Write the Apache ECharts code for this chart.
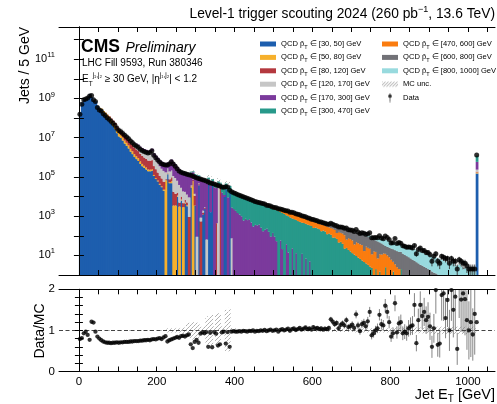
<!DOCTYPE html>
<html>
<head>
<meta charset="utf-8">
<script src="https://cdn.jsdelivr.net/npm/echarts@6.0.0/dist/echarts.min.js"></script>
<style>
html, body { margin: 0; padding: 0; background: #fff; }
#chart { width: 497px; height: 404px; }
</style>
</head>
<body>
<div id="chart"></div>
<script>
// ================= values =================
const binWidthGeV = 5;

const sampleNames = [
  'QCD p\u0302T \u2208 [30, 50] GeV', 'QCD p\u0302T \u2208 [50, 80] GeV', 'QCD p\u0302T \u2208 [80, 120] GeV',
  'QCD p\u0302T \u2208 [120, 170] GeV', 'QCD p\u0302T \u2208 [170, 300] GeV', 'QCD p\u0302T \u2208 [300, 470] GeV',
  'QCD p\u0302T \u2208 [470, 600] GeV', 'QCD p\u0302T \u2208 [600, 800] GeV', 'QCD p\u0302T \u2208 [800, 1000] GeV'
];

// first bin index (bin i covers [5i, 5i+5) GeV) and per-bin jets of each sample
const qcd30to50FirstBin = 0;
const qcd30to50 = [
  1.95e8, 6.2e8, 9.1e8, 9.6e8, 1.17e9, 1.7e9, 1.17e9, 7.1e8, 7.2e8, 4.2e8,
  3.1e8, 2.7e8, 1.9e8, 1.44e8, 1.02e8, 7.8e7, 5.5e7, 3.9e7, 2.7e7, 1.7e7,
  1.15e7, 9.6e6, 7.1e6, 5.0e6, 3.8e6, 2.8e6, 1.94e6, 1.45e6, 1.03e6, 8.1e5,
  6.5e5, 4.6e5, 3.5e5, 2.9e5, 2.4e5, 1.95e5, 1.95e5, 2.1e5, 1.12e5, 7.8e4,
  5.9e4, 4.0e4, 3.0e4, 2.0e4, 0, 1.38e5, 4.8e4, 4.8e4, 0, 0,
  1.0e4, 0, 6.3e3, 0, 4.4e3, 3.2e3, 0, 2.9e4, 0, 3.5e3,
  0, 3.8e4, 0, 1.2e3, 2.3e3, 0, 4.6e4, 1.6e3, 3.9e4, 0,
  0, 0, 0, 0, 9.5e3, 2.6e4, 0, 1.56e4
];
const qcd50to80FirstBin = 10;
const qcd50to80 = [
  2.2e7, 3.3e7, 3.9e7, 4.1e7, 3.9e7, 3.7e7, 3.0e7, 2.3e7, 1.57e7, 1.0e7,
  5.9e6, 4.3e6, 3.2e6, 2.2e6, 1.7e6, 1.25e6, 8.0e5, 5.9e5, 4.2e5, 3.1e5,
  2.5e5, 1.6e5, 1.1e5, 8e4, 6.2e4, 4.5e4, 4e4, 4e4, 1.4e4, 9.5e3,
  7.2e3, 4.9e3, 3.6e3, 2.5e3, 6.8e4, 6.6e3, 5.8e3, 1.2e4, 3.5e3, 3.5e3,
  1.2e3, 3.1e3, 780, 2.9e3, 540, 380, 0, 1.5e3, 6.2e4, 0,
  0, 840
];
const qcd80to120FirstBin = 13;
const qcd80to120 = [
  4.4e6, 6.7e6, 8.2e6, 1.04e7, 1.26e7, 1.35e7, 1.1e7,
  1.0e7, 9.7e6, 8.0e6, 6.2e6, 5.0e6, 3.9e6, 2.9e6, 2.2e6, 1.65e6, 1.38e6,
  1.16e6, 8.7e5, 7.1e5, 6.0e5, 5.3e5, 4.4e5, 4.4e5, 4.7e5, 2.3e5, 1.6e5,
  1.0e5, 6.7e4, 5.0e4, 3.4e4, 8.2e3, 1.0e4, 2.2e4, 3.6e4, 1.4e4, 1.04e4,
  4.7e3, 1.8e3, 2.9e3, 1.7e3, 2.0e3, 1.45e3, 910, 2.2e3, 7.6e3, 7.5e3,
  0, 3.8e3, 540, 320, 280, 0, 0, 0, 0, 0,
  440, 0, 2.9e4
];
const qcd120to170FirstBin = 16;
const qcd120to170 = [
  2.3e6, 3.5e6, 4.0e6, 4.7e6,
  4.8e6, 5.4e6, 5.3e6, 4.7e6, 4.6e6, 4.4e6, 3.7e6, 3.2e6, 2.7e6, 2.4e6,
  2.2e6, 1.77e6, 1.5e6, 1.35e6, 1.26e6, 1.1e6, 1.18e6, 1.36e6, 7.6e5, 5.3e5,
  3.6e5, 2.4e5, 1.8e5, 1.46e5, 9.5e4, 1.2e5, 1.14e5, 1.19e5, 9.4e4, 7.4e4,
  4.8e4, 3.4e4, 1.8e4, 1.37e4, 1.04e4, 7.6e3, 8.2e3, 4.1e3, 8.4e3, 2.8e3,
  90, 5.2e3, 310, 390, 310, 65, 2.2e3, 0, 0, 0,
  0, 3.0e4, 0, 0, 0, 0, 0, 0, 75
];
const qcd170to300FirstBin = 27;
const qcd170to300 = [
  1.7e5, 1.4e5, 2.3e5,
  2.0e5, 2.3e5, 2.6e5, 2.8e5, 3.1e5, 3.6e5, 4.8e5, 6.6e5, 4.6e5, 4.5e5,
  4.1e5, 3.5e5, 3.3e5, 3.1e5, 3.1e5, 2.7e5, 4.1e5, 5.5e5, 4.5e5, 3.5e5,
  2.56e5, 2.06e5, 1.63e5, 1.56e5, 1.45e5, 1.35e5, 1.23e5, 1.29e5, 9.6e4, 1.09e5,
  1.02e5, 5.7e4, 7.1e4, 6.1e4, 5.4e4, 4.9e4, 2.45e4, 3.5e4, 2.0e4, 3.0e4,
  2.7e4, 7.7e3, 2.1e3, 1.6e4, 2.5e3, 3.2e3, 9.0e3, 1.9e3, 2.7e3, 2.3e3,
  1.86e3, 1.45e3, 1.2e3, 990, 600, 730, 630, 700, 480, 300,
  360, 340, 380, 260, 170, 205, 230, 160, 90, 140,
  90, 53, 0, 58, 21, 0, 37, 14, 0, 23,
  0, 13, 0, 0, 12, 0, 7, 0, 5
];
const qcd300to470FirstBin = 52;
const qcd300to470 = [
  9e3, 8.2e3, 1.17e4, 1.06e4, 1.28e4, 2.0e4, 2.1e4, 1.5e4,
  1.5e4, 1.55e4, 1.27e4, 1.28e4, 1.48e4, 1.57e4, 1.9e4, 1.5e4, 1.9e4, 1.5e4,
  1.6e4, 2.2e4, 2.0e4, 1.6e4, 1.8e4, 1.7e4, 2.3e4, 1.75e4, 1.5e4, 1.39e4,
  1.29e4, 1.17e4, 1.08e4, 1.0e4, 9.4e3, 8.4e3, 7.7e3, 6.9e3, 6.4e3, 6.0e3,
  5.4e3, 4.94e3, 4.4e3, 4.23e3, 3.93e3, 3.53e3, 3.07e3, 2.89e3, 2.57e3, 2.3e3,
  2.13e3, 1.99e3, 1.82e3, 1.61e3, 1.43e3, 1.29e3, 1.08e3, 986, 870, 752,
  706, 632, 562, 512, 454, 447, 400, 370, 341, 315,
  250, 264, 240, 218, 170, 183, 165, 120, 132, 112,
  80, 83, 69, 45, 49, 39, 22, 24, 19, 16,
  13, 11, 9.3, 7.7, 6.6, 5.5, 4.6, 3.9, 3.3, 2.7,
  2.3, 0, 2, 0, 1.5, 0, 0, 2.5, 0, 0,
  0, 1.5, 0, 0, 0, 2
];
const qcd470to600FirstBin = 91;
const qcd470to600 = [
  124, 225, 212, 295, 360, 403, 452, 538, 561,
  577, 589, 635, 635, 693, 662, 696, 700, 677, 667,
  609, 586, 533, 510, 443, 404, 351, 335, 283, 272,
  286, 227, 207, 197, 211, 174, 157, 176, 138, 134,
  149, 116, 70, 114, 92, 90, 85, 40, 57, 52,
  45, 25, 38, 34, 30, 28, 12, 24, 21, 19,
  9, 16, 13, 7, 10, 11, 12.6, 9.5, 10, 8,
  6, 3.2, 3.5, 2.5, 2
];
const qcd600to800FirstBin = 105;
const qcd600to800 = [
  46, 43, 40, 73, 68,
  94, 88, 106, 99, 111, 104, 112, 104, 110, 103,
  94, 99, 103, 95, 99, 93, 93, 94, 95, 94,
  87, 96, 136, 104, 104, 100, 107, 136, 114, 110,
  108, 116, 96, 91, 88, 81, 89, 72, 65, 63,
  62, 48, 44, 45, 35, 30, 23, 18, 17, 17,
  16.5, 16, 15, 14, 13, 13.3, 12.2, 10.5, 9.2, 8.1,
  7.0, 6.0, 5.3, 4.5, 3.9, 3.3, 3.0, 2.6, 2.3, 2.0,
  1.8, 1.5, 1.3, 1.2, 1.05, 0.9, 0.83, 0.7
];
const qcd800to1000FirstBin = 141;
const qcd800to1000 = [
  3.1, 4.4, 5.5, 6.6, 8.6, 9.2, 11, 12, 14,
  18, 20, 23, 24, 26, 27, 28, 30, 29, 29,
  27.5, 26, 25.5, 25, 24, 19.7, 20.8, 19.5, 18.8, 17.9,
  16.4, 15.6, 14.5, 13.5, 12.5, 11.6, 10.6, 9.9, 9.2, 8.6,
  8.0, 7.5, 7.0, 6.4, 5.95, 5.5, 5.1, 4.7, 5.0, 4.0,
  4.3, 4.8, 3.6, 2.8, 3.1, 3.5, 2.7, 2.1, 2.2, 2.5,
  1.9, 1.5, 2.0, 1.5
];
// saturated last bin [1020, 1025) GeV, one entry per sample (same order as sampleNames)
const overflowBinIndex = 204;
const overflowBinJets = [1.5e5, 2e4, 1.5e4, 5e4, 3.5e5, 6e5, 3e4, 2e4, 1e4];

// data, bins 0..204
const dataJets = [
  1.55e8, 5.0e8, 8.5e8, 9.3e8, 1.05e9, 1.32e9, 1.41e9, 8.5e8, 7.1e8, 3.5e8,
  2.6e8, 2.3e8, 1.66e8, 1.35e8, 1.05e8, 8.7e7, 6.8e7, 5.5e7, 4.3e7, 3.0e7,
  2.3e7, 2.0e7, 1.66e7, 1.32e7, 1.1e7, 8.9e6, 6.8e6, 5.5e6, 4.4e6, 3.8e6,
  3.3e6, 2.6e6, 2.24e6, 2.0e6, 1.82e6, 1.66e6, 1.78e6, 2.14e6, 1.26e6, 9.5e5,
  7.4e5, 5.8e5, 4.7e5, 4.3e5, 4.1e5, 4.0e5, 4.6e5, 5.9e5, 4.5e5, 3.55e5,
  2.6e5, 2.0e5, 1.74e5, 1.58e5, 1.48e5, 1.38e5, 1.29e5, 1.23e5, 1.12e5, 1.0e5,
  9.1e4, 8.3e4, 7.8e4, 7.2e4, 6.8e4, 6.2e4, 5.5e4, 4.9e4, 4.6e4, 4.3e4,
  4.0e4, 3.7e4, 3.4e4, 3.1e4, 2.95e4, 3.2e4, 3.1e4, 2.1e4, 1.74e4, 1.58e4,
  1.45e4, 1.28e4, 1.18e4, 1.07e4, 9.9e3, 8.9e3, 8.1e3, 7.5e3, 6.8e3, 6.3e3,
  5.6e3, 5.3e3, 4.9e3, 4.7e3, 4.36e3, 4.14e3, 3.63e3, 3.5e3, 3.26e3, 2.97e3,
  2.8e3, 2.68e3, 2.38e3, 2.32e3, 2.2e3, 2.0e3, 1.9e3, 1.81e3, 1.6e3, 1.56e3,
  1.48e3, 1.33e3, 1.24e3, 1.19e3, 1.04e3, 993, 931, 834, 777, 704,
  680, 614, 583, 525, 504, 459, 432, 402, 387, 432,
  382, 339, 325, 276, 277, 268, 240, 250, 205, 196,
  189, 164, 206, 155, 129, 141, 136, 121, 124, 142,
  80, 79, 81, 80, 99, 78, 71, 96, 81, 65,
  43, 44, 73, 40, 46, 42, 31, 29, 26, 27,
  26, 24, 32, 12, 20, 24, 18, 18, 14, 14,
  11, 5, 9, 12, 5, 4, 9, 8, 7, 7,
  4, 7, 5, 5, 2, 6, 5, 4, 4, 3,
  2, 2, 2, 2, 1.3e6
];

// Data / MC, bins 0..204
const dataOverMC = [
  0.79, 0.81, 0.93, 0.97, 0.89, 0.77, 1.21, 1.19, 0.97, 0.85,
  0.80, 0.76, 0.73, 0.71, 0.70, 0.70, 0.69, 0.70, 0.70, 0.71,
  0.70, 0.71, 0.71, 0.72, 0.72, 0.72, 0.73, 0.73, 0.74, 0.74,
  0.74, 0.75, 0.75, 0.76, 0.76, 0.77, 0.76, 0.78, 0.79, 0.78,
  0.80, 0.81, 0.79, 0.83, 0.86, 0.73, 0.76, 0.78, 0.80, 0.82,
  0.84, 0.82, 0.86, 0.87, 0.85, 0.88, 0.90, 0.66, 0.57, 0.72,
  0.77, 0.70, 0.92, 0.95, 0.93, 0.96, 0.60, 0.94, 0.59, 0.96,
  0.92, 0.63, 0.66, 0.95, 0.97, 0.68, 0.96, 0.60, 0.97, 0.98,
  0.97, 0.97, 0.98, 0.97, 0.99, 0.98, 0.97, 0.99, 0.98, 1.00,
  0.97, 0.99, 0.98, 1.00, 0.99, 1.01, 0.98, 1.00, 1.02, 0.99,
  1.00, 1.02, 0.97, 1.01, 1.03, 1.00, 1.02, 1.04, 0.99, 1.03,
  1.05, 1.01, 1.03, 1.06, 1.02, 1.04, 1.07, 1.03, 1.05, 1.02,
  1.08, 1.04, 1.06, 1.03, 1.05, 1.02, 1.04, 1.03, 1.06, 1.27,
  1.21, 1.15, 1.18, 1.05, 1.13, 1.17, 1.12, 1.25, 1.08, 1.10,
  1.14, 1.06, 1.39, 1.12, 0.98, 1.15, 1.18, 1.10, 1.22, 1.45,
  0.88, 0.93, 1.00, 1.05, 1.38, 1.15, 1.12, 1.60, 1.45, 1.20,
  0.85, 0.93, 1.66, 0.95, 1.17, 1.20, 0.93, 0.97, 0.93, 1.05,
  1.10, 1.12, 1.62, 0.69, 1.25, 1.62, 1.35, 1.45, 1.25, 1.33,
  1.10, 0.60, 1.05, 1.98, 0.65, 0.68, 1.86, 1.90, 1.30, 1.74,
  1.00, 1.98, 1.50, 1.82, 0.55, 2.20, 1.75, 1.90, 1.76, 1.25,
  1.00, 1.20, 0.90, 1.40, 1.20
];

// relative MC statistical uncertainty, bins 0..204
const mcRelStatUnc = [
  0.01, 0.01, 0.01, 0.01, 0.01, 0.01, 0.01, 0.01, 0.01, 0.01,
  0.01, 0.01, 0.01, 0.01, 0.01, 0.01, 0.01, 0.01, 0.01, 0.01,
  0.01, 0.01, 0.01, 0.01, 0.01, 0.01, 0.01, 0.01, 0.01, 0.01,
  0.01, 0.01, 0.01, 0.01, 0.01, 0.01, 0.01, 0.01, 0.01, 0.01,
  0.01, 0.01, 0.01, 0.01, 0.01, 0.05, 0.04, 0.05, 0.04, 0.05,
  0.06, 0.05, 0.06, 0.06, 0.07, 0.15, 0.18, 0.20, 0.22, 0.20,
  0.18, 0.20, 0.08, 0.09, 0.10, 0.30, 0.35, 0.33, 0.38, 0.10,
  0.40, 0.42, 0.40, 0.10, 0.12, 0.50, 0.45, 0.55, 0.06, 0.05,
  0.05, 0.02, 0.02, 0.02, 0.02, 0.02, 0.02, 0.02, 0.02, 0.02,
  0.02, 0.02, 0.02, 0.02, 0.02, 0.02, 0.02, 0.02, 0.02, 0.02,
  0.02, 0.03, 0.03, 0.03, 0.03, 0.03, 0.03, 0.03, 0.03, 0.03,
  0.03, 0.03, 0.03, 0.03, 0.03, 0.03, 0.03, 0.03, 0.03, 0.03,
  0.03, 0.04, 0.04, 0.04, 0.04, 0.04, 0.04, 0.04, 0.04, 0.04,
  0.04, 0.04, 0.04, 0.04, 0.04, 0.04, 0.04, 0.04, 0.04, 0.04,
  0.04, 0.05, 0.05, 0.05, 0.05, 0.05, 0.05, 0.05, 0.05, 0.05,
  0.05, 0.05, 0.05, 0.05, 0.05, 0.05, 0.05, 0.05, 0.05, 0.05,
  0.05, 0.07, 0.07, 0.07, 0.07, 0.07, 0.07, 0.07, 0.07, 0.07,
  0.07, 0.07, 0.07, 0.07, 0.07, 0.07, 0.07, 0.07, 0.07, 0.07,
  0.07, 0.09, 0.09, 0.09, 0.09, 0.09, 0.09, 0.09, 0.09, 0.09,
  0.09, 0.09, 0.09, 0.09, 0.09, 0.09, 0.09, 0.09, 0.09, 0.09,
  0.09, 0.09, 0.09, 0.09, 0.02
];

const xTickLabelValues = [0, 200, 400, 600, 800, 1000];
const xTickValues = [0, 50, 100, 150, 200, 250, 300, 350, 400, 450, 500, 550, 600, 650, 700, 750, 800, 850, 900, 950, 1000, 1050];
const yTickLabelValues = [1e1, 1e3, 1e5, 1e7, 1e9, 1e11];
const yTickValues = [1e1, 1e2, 1e3, 1e4, 1e5, 1e6, 1e7, 1e8, 1e9, 1e10, 1e11, 1e12];
const ratioTickLabelValues = [0, 1, 2];
const ratioTickValues = [0, 0.2, 0.4, 0.6, 0.8, 1, 1.2, 1.4, 1.6, 1.8, 2];

// ================= styling =================
const sampleColors = ['#1d5eae', '#f6b02c', '#b4383e', '#c6c6c6', '#7b3a9c', '#27998a', '#fa7c0f', '#727277', '#98dade'];
const FONT = '"Liberation Sans", Arial, Helvetica, sans-serif';
const X_MIN = -51.2, X_MAX = 1069.6;
const Y_MIN = 1, Y_MAX = 4.4e12;

const samples = [
  [qcd30to50FirstBin, qcd30to50], [qcd50to80FirstBin, qcd50to80], [qcd80to120FirstBin, qcd80to120],
  [qcd120to170FirstBin, qcd120to170], [qcd170to300FirstBin, qcd170to300], [qcd300to470FirstBin, qcd300to470],
  [qcd470to600FirstBin, qcd470to600], [qcd600to800FirstBin, qcd600to800], [qcd800to1000FirstBin, qcd800to1000]
];

const nBins = dataJets.length;
const mcTotal = new Array(nBins).fill(0);

function histRect(params, api) {
  const a = api.coord([api.value(0), api.value(3)]);
  const b = api.coord([api.value(1), api.value(2)]);
  return { type: 'rect', shape: { x: a[0], y: a[1], width: b[0] - a[0] + 0.8, height: b[1] - a[1] },
           style: { fill: api.visual('color'), stroke: null, lineWidth: 0 } };
}

const histSeries = samples.map(([first, vals], k) => {
  const items = [];
  const add = (i, v) => {
    const lo = mcTotal[i], hi = lo + v;
    mcTotal[i] = hi;
    if (v > 0 && hi > Y_MIN) items.push([i * binWidthGeV, (i + 1) * binWidthGeV, Math.max(lo, Y_MIN), hi]);
  };
  vals.forEach((v, j) => add(first + j, v));
  add(overflowBinIndex, overflowBinJets[k]);
  return {
    type: 'custom', name: sampleNames[k], xAxisIndex: 0, yAxisIndex: 0, z: 2, silent: true,
    progressive: 0, itemStyle: { color: sampleColors[k] }, renderItem: histRect,
    encode: { x: [0, 1], y: [2, 3] }, data: items
  };
});

// hatch pattern
function hatchCanvas(w, h, step, color, lw, y0, y1) {
  const c = document.createElement('canvas'); c.width = w; c.height = h;
  const g = c.getContext('2d');
  g.save(); g.beginPath(); g.rect(0, y0, w, y1 - y0); g.clip();
  g.strokeStyle = color; g.lineWidth = lw;
  for (let x = -h; x <= w + h; x += step) { g.beginPath(); g.moveTo(x, h); g.lineTo(x + h, 0); g.stroke(); }
  g.restore();
  return c;
}
const hatchTile = hatchCanvas(4, 4, 4, '#9a9a9a', 0.8, 0, 4);
const hatchFill = { image: hatchTile, repeat: 'repeat' };
const hatchIcon = 'image://' + hatchCanvas(32, 20, 6, '#a0a0a0', 1.4, 5, 15).toDataURL();
const dataIcon = (function () {
  const c = document.createElement('canvas'); c.width = 32; c.height = 20;
  const g = c.getContext('2d'); g.fillStyle = '#000';
  g.fillRect(15.3, 1, 1.4, 18); g.beginPath(); g.arc(16, 7, 3.6, 0, Math.PI * 2); g.fill();
  return 'image://' + c.toDataURL();
})();

const uncTop = [], uncRatio = [];
for (let i = 0; i < nBins; i++) {
  const t = mcTotal[i], u = mcRelStatUnc[i];
  if (t > 0) {
    uncTop.push([i * binWidthGeV, (i + 1) * binWidthGeV, Math.max(t * (1 - u), Y_MIN), Math.max(t * (1 + u), Y_MIN)]);
    uncRatio.push([i * binWidthGeV, (i + 1) * binWidthGeV, Math.max(1 - u, 0), Math.min(1 + u, 2)]);
  }
}
function hatchRect(params, api) {
  const a = api.coord([api.value(0), api.value(3)]);
  const b = api.coord([api.value(1), api.value(2)]);
  if (b[1] - a[1] < 0.6) return;
  return { type: 'rect', shape: { x: a[0], y: a[1], width: b[0] - a[0], height: b[1] - a[1] }, style: { fill: hatchFill } };
}

const center = i => i * binWidthGeV + binWidthGeV / 2;
const dataPts = dataJets.map((v, i) => [center(i), v]);
const dataErr = dataJets.map((v, i) => [center(i), Math.max(v - Math.sqrt(v), Y_MIN), v + Math.sqrt(v)]);
const ratioPts = dataOverMC.map((r, i) => [center(i), r]);
const ratioErr = dataOverMC.map((r, i) => [center(i), Math.max(r - r / Math.sqrt(dataJets[i]), 0), Math.min(r + r / Math.sqrt(dataJets[i]), 2)]);
function errBar(color) {
  return function (params, api) {
    const a = api.coord([api.value(0), api.value(1)]);
    const b = api.coord([api.value(0), api.value(2)]);
    if (a[1] - b[1] < 2) return;
    return { type: 'line', shape: { x1: a[0], y1: a[1], x2: b[0], y2: b[1] }, style: { stroke: color, lineWidth: 0.9 } };
  };
}

const tickStyle = { lineStyle: { color: '#000', width: 1 } };
function xAx(grid, pos, labels) {
  return {
    gridIndex: grid, type: 'value', position: pos, min: X_MIN, max: X_MAX, z: 10,
    axisLine: { show: true, onZero: false, lineStyle: { color: '#000', width: 1 } },
    axisTick: { show: true, inside: true, length: 5, customValues: xTickValues, ...tickStyle },
    axisLabel: labels ? { show: true, customValues: xTickLabelValues, color: '#000', fontSize: 11.5, fontFamily: FONT, margin: 4,
                          formatter: v => String(v) } : { show: false },
    splitLine: { show: false }
  };
}
const supRich = {
  b: { fontSize: 11, fontFamily: FONT, color: '#000', lineHeight: 16 },
  e: { fontSize: 7.5, fontFamily: FONT, color: '#000', lineHeight: 7, verticalAlign: 'top' }
};
function yLogAx(pos, labels) {
  return {
    gridIndex: 0, type: 'log', logBase: 10, position: pos, min: Y_MIN, max: Y_MAX, z: 10,
    axisLine: { show: true, lineStyle: { color: '#000', width: 1 } },
    axisTick: { show: true, inside: true, length: 5, customValues: yTickValues, ...tickStyle },
    axisLabel: labels ? {
      show: true, customValues: yTickLabelValues, margin: 4,
      formatter: v => '{b|10}{e|' + Math.round(Math.log10(v)) + '}', rich: supRich
    } : { show: false },
    splitLine: { show: false }
  };
}
function yRatioAx(pos, labels) {
  return {
    gridIndex: 1, type: 'value', position: pos, min: 0, max: 2, z: 10,
    axisLine: { show: true, lineStyle: { color: '#000', width: 1 } },
    axisTick: { show: true, inside: true, length: 4, customValues: ratioTickValues, ...tickStyle },
    axisLabel: labels ? { show: true, customValues: ratioTickLabelValues, color: '#000', fontSize: 11.5, fontFamily: FONT, margin: 4,
                          formatter: v => String(v) } : { show: false },
    splitLine: { show: false }
  };
}

const legendRich = {
  p: { fontSize: 7.6, fontFamily: FONT, color: '#000', lineHeight: 13 },
  t: { fontSize: 5.5, fontFamily: FONT, color: '#000', lineHeight: 6, verticalAlign: 'bottom' }
};
const legendText = { fontSize: 7.6, fontFamily: FONT, color: '#000', lineHeight: 13, rich: legendRich };
const legendFmt = name => name.replace('p\u0302T', '{p|p\u0302}{t|T}');

const option = {
  animation: false,
  backgroundColor: '#fff',
  textStyle: { fontFamily: FONT },
  grid: [
    { left: 59, top: 27, width: 436, height: 248, containLabel: false, outerBoundsMode: 'none' },
    { left: 59, top: 289.3, width: 436, height: 82.2, containLabel: false, outerBoundsMode: 'none' }
  ],
  xAxis: [xAx(0, 'bottom', false), xAx(0, 'top', false), xAx(1, 'bottom', true), xAx(1, 'top', false)],
  yAxis: [yLogAx('left', true), yLogAx('right', false), yRatioAx('left', true), yRatioAx('right', false)],
  legend: [
    { left: 255, top: 32.5, orient: 'vertical', itemWidth: 16, itemHeight: 5, itemGap: 0.4, icon: 'rect',
      selectedMode: false, data: sampleNames.slice(0, 6), textStyle: legendText, formatter: legendFmt },
    { left: 377, top: 32.5, orient: 'vertical', itemWidth: 16, itemHeight: 5, itemGap: 0.4, icon: 'rect',
      selectedMode: false, data: sampleNames.slice(6, 9), textStyle: legendText, formatter: legendFmt },
    { left: 377, top: 72.7, orient: 'vertical', itemWidth: 16, itemHeight: 10, itemGap: 0.4,
      selectedMode: false, textStyle: legendText,
      data: [{ name: 'MC unc.', icon: hatchIcon }, { name: 'Data', icon: dataIcon }] }
  ],
  graphic: [
    { type: 'text', x: 495, y: 14, silent: true, style: {
      text: '{a|Level-1 trigger scouting 2024 (260 pb}{s|\u22121}{a|, 13.6 TeV)}', align: 'right', verticalAlign: 'middle',
      rich: { a: { fontSize: 13.8, fontFamily: FONT, fill: '#000', lineHeight: 18 },
              s: { fontSize: 9, fontFamily: FONT, fill: '#000', lineHeight: 9, verticalAlign: 'top' } } } },
    { type: 'text', x: 81, y: 47, silent: true, style: { text: 'CMS', fontSize: 17.5, fontWeight: 'bold', fontFamily: FONT, fill: '#000', verticalAlign: 'middle' } },
    { type: 'text', x: 125.5, y: 47.8, silent: true, style: { text: 'Preliminary', fontSize: 14, fontStyle: 'italic', fontFamily: FONT, fill: '#000', verticalAlign: 'middle' } },
    { type: 'text', x: 82, y: 63, silent: true, style: { text: 'LHC Fill 9593, Run 380346', fontSize: 10, fontFamily: FONT, fill: '#000', verticalAlign: 'middle' } },
    { type: 'text', x: 82, y: 79.5, silent: true, style: {
      text: 'E{sub|T}{sup|j\u2081,j\u2082} \u2265 30 GeV, |\u03b7{sup|j\u2081,j\u2082}| < 1.2', fontSize: 10, fontFamily: FONT, fill: '#000',
      lineHeight: 16, verticalAlign: 'middle',
      rich: { sub: { fontSize: 6.5, fontFamily: FONT, fill: '#000', lineHeight: 6, verticalAlign: 'bottom' },
              sup: { fontSize: 6.5, fontFamily: FONT, fill: '#000', lineHeight: 6, verticalAlign: 'top' } } } },
    { type: 'text', x: 25, y: 27, rotation: Math.PI / 2, silent: true, style: { text: 'Jets / 5 GeV', fontSize: 14, fontFamily: FONT, fill: '#000', align: 'right', verticalAlign: 'middle' } },
    { type: 'text', x: 40, y: 331, rotation: Math.PI / 2, silent: true, style: { text: 'Data/MC', fontSize: 14, fontFamily: FONT, fill: '#000', align: 'center', verticalAlign: 'middle' } },
    { type: 'text', x: 495, y: 395, silent: true, style: {
      text: '{a|Jet E}{s|T}{a| [GeV]}', align: 'right', verticalAlign: 'middle',
      rich: { a: { fontSize: 14.5, fontFamily: FONT, fill: '#000', lineHeight: 18 },
              s: { fontSize: 10, fontFamily: FONT, fill: '#000', lineHeight: 10, verticalAlign: 'bottom' } } } }
  ],
  series: [
    ...histSeries,
    { type: 'custom', name: 'MC unc.', xAxisIndex: 0, yAxisIndex: 0, z: 3, silent: true, itemStyle: { color: '#9a9a9a' },
      renderItem: hatchRect, encode: { x: [0, 1], y: [2, 3] }, data: uncTop },
    { type: 'custom', name: 'MC unc. ratio', xAxisIndex: 2, yAxisIndex: 2, z: 3, silent: true, itemStyle: { color: '#9a9a9a' },
      renderItem: hatchRect, encode: { x: [0, 1], y: [2, 3] }, data: uncRatio },
    { type: 'custom', name: 'Data unc.', xAxisIndex: 0, yAxisIndex: 0, z: 4, silent: true,
      renderItem: errBar('#333'), encode: { x: 0, y: [1, 2] }, data: dataErr },
    { type: 'scatter', name: 'Data', xAxisIndex: 0, yAxisIndex: 0, z: 5, silent: true, symbol: 'circle', symbolSize: 5,
      itemStyle: { color: '#000' }, data: dataPts },
    { type: 'custom', name: 'Ratio unc.', xAxisIndex: 2, yAxisIndex: 2, z: 4, silent: true,
      renderItem: errBar('#777'), encode: { x: 0, y: [1, 2] }, data: ratioErr },
    { type: 'scatter', name: 'Data/MC', xAxisIndex: 2, yAxisIndex: 2, z: 5, silent: true, symbol: 'circle', symbolSize: 4.3,
      itemStyle: { color: '#000' }, data: ratioPts, clip: true,
      markLine: { silent: true, symbol: ['none', 'none'], label: { show: false },
        lineStyle: { type: [4, 2.5], color: '#444', width: 1 }, data: [{ yAxis: 1 }] } }
  ]
};

const chart = echarts.init(document.getElementById('chart'), null, { renderer: 'canvas' });
chart.setOption(option);
</script>
</body>
</html>
